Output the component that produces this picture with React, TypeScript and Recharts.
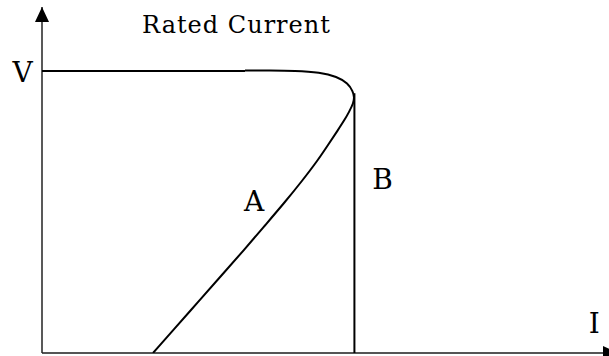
import React from 'react';
import { LineChart, Line, XAxis, YAxis, ReferenceDot, ReferenceLine } from 'recharts';

// Flat "rated voltage" segment (I, V in arbitrary units 0..100)
const flatI = [0, 35.8];
const flatV = [81.5, 81.5];

// Bend at rated current and curve A down to the I axis
const curveI = [35.8, 40.21, 44.62, 49.03, 52.03, 53.97, 54.85, 55.08, 54.94, 54.15, 53.35, 52.2, 50.44, 48.68, 45.86, 42.86, 39.24, 35.63, 31.57, 27.51, 23.17, 19.58];
const curveV = [81.65, 81.65, 81.59, 81.13, 79.86, 77.95, 75.58, 73.99, 72.25, 69.65, 67.34, 64.45, 60.12, 55.78, 49.71, 43.64, 36.71, 29.77, 22.25, 14.74, 6.65, 0];

// Vertical line B at rated current
const lineBI = [55.1, 55.1];
const lineBV = [75.1, 0];

// Text labels
const labelTexts = ['Rated Current', 'V', 'A', 'B', 'I'];
const labelI = [34.3, -3.4, 37.4, 60.05, 97.4];
const labelV = [92.5, 78.3, 41.0, 47.4, 5.8];

const zip = (xs: number[], ys: number[]) => xs.map((x, k) => ({ i: x, v: ys[k] }));

const flatData = zip(flatI, flatV);
const curveData = zip(curveI, curveV);
const lineBData = zip(lineBI, lineBV);

const FONT = '"DejaVu Serif", serif';

export default function App() {
  return (
    <div style={{ position: 'absolute', left: 0, top: 0, background: '#fff' }}>
      <LineChart width={609} height={356} margin={{ top: 7, right: 0, bottom: 3, left: 42 }}>
        <XAxis type="number" dataKey="i" domain={[0, 100]} allowDataOverflow hide />
        <YAxis type="number" dataKey="v" domain={[0, 100]} allowDataOverflow hide />
        <ReferenceLine y={0} stroke="#555" strokeWidth={2} ifOverflow="visible" />
        <ReferenceLine x={0} stroke="#222" strokeWidth={1.5} ifOverflow="visible" />
        <Line data={flatData} dataKey="v" type="linear" stroke="#000" strokeWidth={2} dot={false} isAnimationActive={false} />
        <Line data={curveData} dataKey="v" type="basis" stroke="#000" strokeWidth={2} dot={false} isAnimationActive={false} />
        <Line data={lineBData} dataKey="v" type="linear" stroke="#000" strokeWidth={2} dot={false} isAnimationActive={false} />
        <ReferenceDot
          x={0}
          y={100}
          r={0}
          ifOverflow="visible"
          shape={(p: any) => (
            <polygon points={`${p.cx},${p.cy} ${p.cx - 7},${p.cy + 15} ${p.cx + 7},${p.cy + 15}`} fill="#000" />
          )}
        />
        <ReferenceDot
          x={100}
          y={0}
          r={0}
          ifOverflow="visible"
          shape={(p: any) => (
            <polygon points={`${p.cx - 6},${p.cy - 7} ${p.cx - 6},${p.cy + 7} ${p.cx + 9},${p.cy}`} fill="#000" />
          )}
        />
        {labelTexts.map((t, k) => (
          <ReferenceDot
            key={t}
            x={labelI[k]}
            y={labelV[k]}
            r={0}
            ifOverflow="visible"
            shape={(p: any) => (
              <text
                x={p.cx}
                y={p.cy}
                textAnchor="middle"
                fontFamily={FONT}
                fontSize={k === 0 ? 24 : 28}
                letterSpacing={k === 0 ? 1 : 0}
                fill="#000"
              >
                {t}
              </text>
            )}
          />
        ))}
      </LineChart>
    </div>
  );
}
